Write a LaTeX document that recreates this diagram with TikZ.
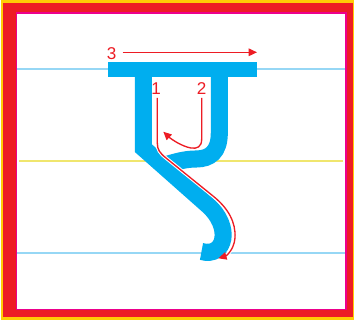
\documentclass[tikz,border=0pt]{standalone}
\usepackage{fontspec}
\setmainfont{Liberation Sans}
\usetikzlibrary{arrows.meta}
\definecolor{glyphblue}{RGB}{0,174,239}
\definecolor{framered}{RGB}{237,28,36}
\definecolor{frameyellow}{RGB}{255,203,5}
\definecolor{framemag}{RGB}{236,0,140}
\definecolor{guideblue}{RGB}{150,215,245}
\definecolor{guideyellow}{RGB}{240,230,110}
\begin{document}
\begin{tikzpicture}[x=0.75pt,y=-0.75pt,
  guide/.style={line width=1.4pt},
  glyphstroke/.style={draw=glyphblue,line width=12.8pt,line join=miter,line cap=butt},
  trace/.style={preaction={draw=white,line width=2.6pt,-,shorten >=5pt},
    draw=framered,line width=1pt,-{Triangle[length=6.2pt,width=5.6pt]}},
  lbl/.style={text=framered,inner sep=0pt,font=\fontsize{12.8pt}{14pt}\selectfont}]
\useasboundingbox (0,0) rectangle (354,324);
% frame
\fill[white] (0,0) rectangle (354,324);
\fill[frameyellow] (1,0) rectangle (354,320);
\fill[framered] (3,3) rectangle (353,317);
\fill[framemag] (15.5,12.5) rectangle (346.5,310.5);
\fill[white] (17,14) rectangle (345,309);
% guide lines
\coordinate (g1a) at (17,69.3); \coordinate (g1b) at (345,69.3);
\coordinate (g2a) at (19,161); \coordinate (g2b) at (343,161);
\coordinate (g3a) at (17,252.7); \coordinate (g3b) at (345,252.7);
\draw[guide,guideblue] (g1a) -- (g1b);
\draw[guide,guideyellow] (g2a) -- (g2b);
\draw[guide,guideblue] (g3a) -- (g3b);
% glyph
\fill[glyphblue] (108.3,61.7) rectangle (256.7,77);
\draw[glyphstroke] (143.4,72) -- (143.4,148.2) -- (207,204.5)
  .. controls (233,227) and (225,258) .. (201.5,251.5);
\draw[glyphstroke] (219.3,72) -- (219.3,133)
  .. controls (219.3,152) and (210,159) .. (196,159)
  .. controls (185,159) and (175,162) .. (165,165);
% labels
\node[lbl] (n3) at (111.7,53.3) {3};
\node[lbl] (n1) at (156,88.3) {1};
\node[lbl] (n2) at (201.7,88.5) {2};
% traces
\coordinate (a3s) at (122.7,52.3); \coordinate (a3e) at (257,52.3);
\draw[trace] (a3s) -- (a3e);
\coordinate (p1s) at (157.3,98); \coordinate (p1e) at (218.3,258.3);
\draw[trace] (p1s) -- (157.3,143) .. controls (157.3,150) and (160,153) .. (166,158)
  -- (213,196) .. controls (228,208) and (236,222) .. (235,238)
  .. controls (234,250) and (226,256) .. (p1e);
\coordinate (p2s) at (201.7,98); \coordinate (p2e) at (163.3,131.7);
\draw[trace] (p2s) -- (201.7,139) .. controls (201.7,147) and (197,149) .. (191,148)
  .. controls (182,146.5) and (171,139) .. (p2e);
\end{tikzpicture}
\end{document}
